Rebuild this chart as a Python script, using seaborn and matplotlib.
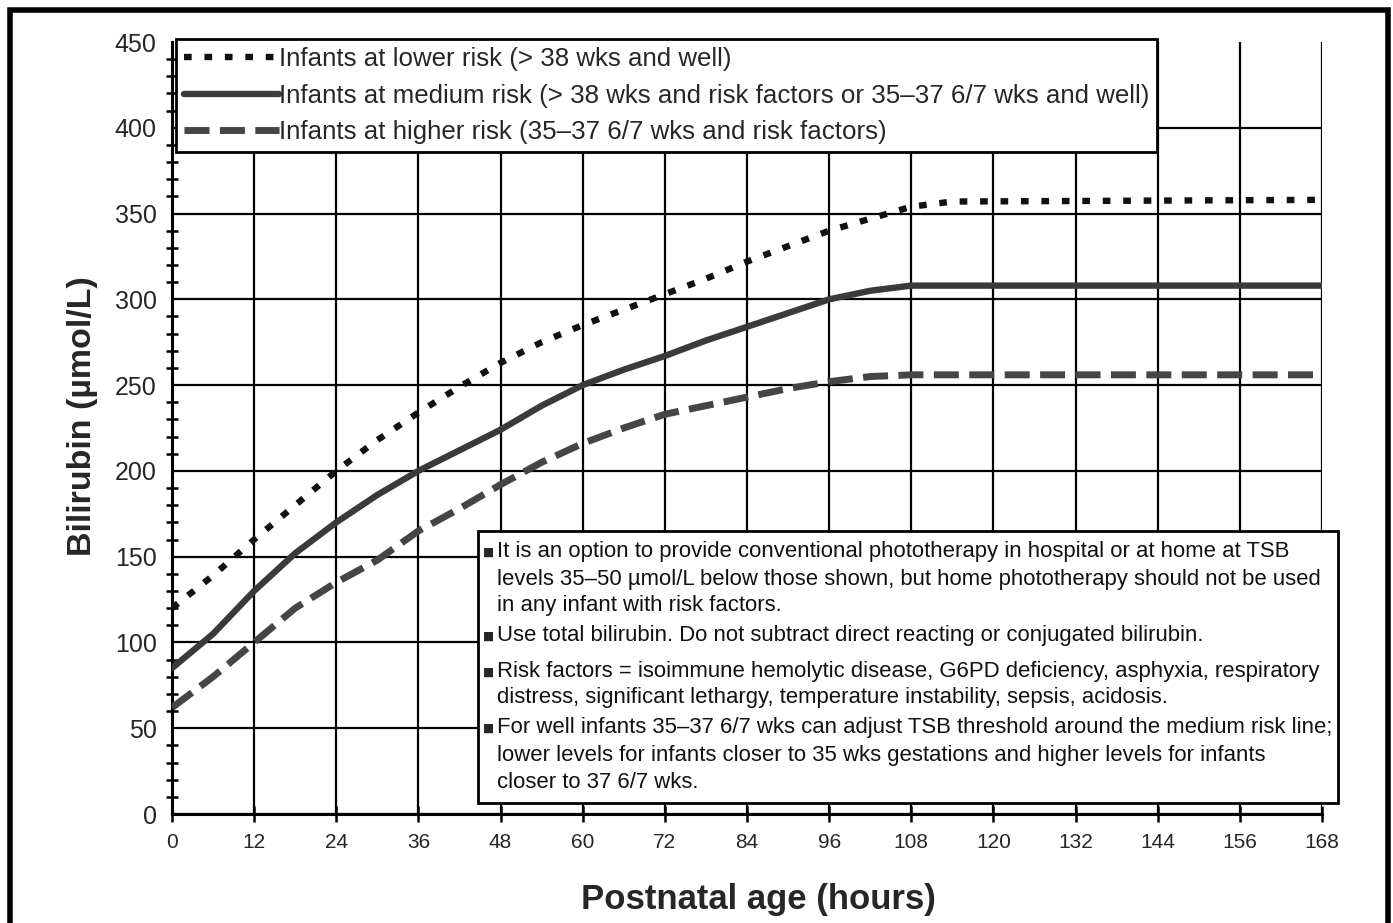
import matplotlib
matplotlib.use("Agg")
import matplotlib.pyplot as plt
import pandas as pd
import seaborn as sns
from matplotlib.patches import Rectangle
from matplotlib.ticker import MultipleLocator

hours = [0, 6, 12, 18, 24, 30, 36, 42, 48, 54, 60, 66, 72, 78, 84, 90, 96, 102, 108, 114, 168]
lower_risk = [120, 139, 160, 180, 200, 218, 234, 249, 263, 275, 285, 294, 303, 312, 322, 331, 340, 347, 354, 357, 358]
medium_risk = [85, 105, 130, 152, 170, 186, 200, 212, 224, 238, 250, 259, 267, 276, 284, 292, 300, 305, 308, 308, 308]
higher_risk = [62, 80, 100, 120, 135, 148, 165, 178, 192, 205, 216, 225, 233, 238, 243, 248, 252, 255, 256, 256, 256]

labels = [
    "Infants at lower risk (> 38 wks and well)",
    "Infants at medium risk (> 38 wks and risk factors or 35\u201337 6/7 wks and well)",
    "Infants at higher risk (35\u201337 6/7 wks and risk factors)",
]

notes = [
    ["It is an option to provide conventional phototherapy in hospital or at home at TSB",
     "levels 35\u201350 \u00b5mol/L below those shown, but home phototherapy should not be used",
     "in any infant with risk factors."],
    ["Use total bilirubin. Do not subtract direct reacting or conjugated bilirubin."],
    ["Risk factors = isoimmune hemolytic disease, G6PD deficiency, asphyxia, respiratory",
     "distress, significant lethargy, temperature instability, sepsis, acidosis."],
    ["For well infants 35\u201337 6/7 wks can adjust TSB threshold around the medium risk line;",
     "lower levels for infants closer to 35 wks gestations and higher levels for infants",
     "closer to 37 6/7 wks."],
]


def main():
    sns.set_theme(style="white")
    plt.rcParams["font.family"] = ["Liberation Sans", "DejaVu Sans"]

    W, H = 1393, 923
    fig = plt.figure(figsize=(W / 100, H / 100), dpi=100)
    ax = fig.add_axes([172 / W, 1 - 814 / H, 1150 / W, 772 / H])

    df = pd.DataFrame({"hours": hours, "lower": lower_risk,
                       "medium": medium_risk, "higher": higher_risk})

    sns.lineplot(data=df, x="hours", y="lower", ax=ax, color="#111111", lw=4.6,
                 linestyle=(0, (1.2, 2.0)), label=labels[0], zorder=4)
    sns.lineplot(data=df, x="hours", y="medium", ax=ax, color="#3a3a3a", lw=4.6,
                 label=labels[1], zorder=4)
    sns.lineplot(data=df, x="hours", y="higher", ax=ax, color="#454545", lw=5,
                 linestyle=(0, (3.6, 1.5)), label=labels[2], zorder=4)

    ax.set_xlim(0, 168)
    ax.set_ylim(0, 450)
    ax.set_xticks(range(0, 169, 12))
    ax.set_yticks(range(0, 451, 50))
    ax.yaxis.set_minor_locator(MultipleLocator(10))

    ax.grid(True, axis="both", which="major", color="black", lw=1.6)
    ax.yaxis.get_gridlines()[-1].set_visible(False)
    ax.xaxis.get_gridlines()[0].set_visible(False)
    ax.set_axisbelow(True)

    for side in ["top", "right"]:
        ax.spines[side].set_visible(False)
    for side in ["left", "bottom"]:
        ax.spines[side].set_color("black")
        ax.spines[side].set_linewidth(2.2)

    ax.tick_params(axis="both", which="both", direction="inout", color="black",
                   width=1.8)
    ax.tick_params(axis="y", which="major", length=10, labelsize=18, pad=6)
    ax.tick_params(axis="y", which="minor", length=9, left=True)
    ax.tick_params(axis="x", which="major", length=12, labelsize=15, pad=8, bottom=True)

    ax.set_xlabel("Postnatal age (hours)", fontsize=25, fontweight="bold")
    ax.set_ylabel("Bilirubin (\u00b5mol/L)", fontsize=24.5, fontweight="bold")
    ax.xaxis.set_label_coords(0.510, -0.089)
    ax.yaxis.set_label_coords(-0.064, 0.515)

    leg = ax.legend(loc="upper left", bbox_to_anchor=(0.0035, 1.004), fontsize=18.6,
                    frameon=True, fancybox=False, framealpha=1, edgecolor="black",
                    handlelength=3.7, handletextpad=0.0, labelspacing=0.5,
                    borderpad=0.3, borderaxespad=0)
    leg.get_frame().set_linewidth(2)
    leg.set_zorder(6)

    # notes box
    box = Rectangle((478 / W, 1 - 803 / H), 860 / W, 272 / H, transform=fig.transFigure,
                    facecolor="white", edgecolor="black", lw=2, zorder=5)
    fig.add_artist(box)
    line_y = [[552, 580, 606], [636], [672, 698], [728, 756, 783]]
    for bullet, ys in zip(notes, line_y):
        fig.text(483 / W, 1 - ys[0] / H, "\u25a0", fontsize=8.5, va="center",
                 ha="left", zorder=7, family=["DejaVu Sans"])
        for txt, y in zip(bullet, ys):
            fig.text(497 / W, 1 - y / H, txt, fontsize=15.9, va="center",
                     ha="left", zorder=7, color="#111111")

    border = Rectangle((10 / W, -0.05), 1378 / W, 1 - 10 / H + 0.05,
                       transform=fig.transFigure, fill=False, edgecolor="black",
                       lw=4, zorder=10)
    fig.add_artist(border)

    fig.savefig("out.png", dpi=100, facecolor="white")
    plt.close(fig)


if __name__ == "__main__":
    main()
